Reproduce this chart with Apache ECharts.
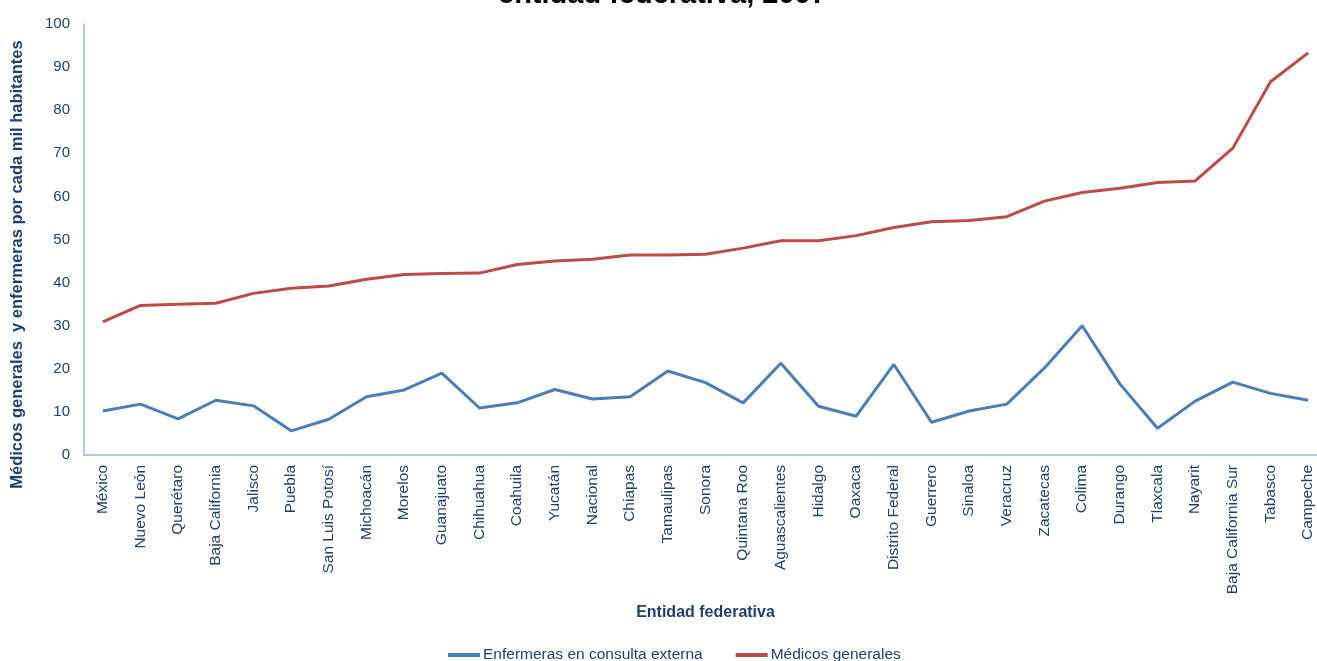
<!DOCTYPE html>
<html>
<head>
<meta charset="utf-8">
<script src="https://cdn.jsdelivr.net/npm/echarts@6/dist/echarts.min.js"></script>
<style>html,body{margin:0;padding:0;background:#fff;overflow:hidden;width:1317px;height:661px;}#c{width:1330px;height:661px;}</style>
</head>
<body>
<div id="c"></div>
<script>
const categories = ["México","Nuevo León","Querétaro","Baja California","Jalisco","Puebla","San Luis Potosí","Michoacán","Morelos","Guanajuato","Chihuahua","Coahuila","Yucatán","Nacional","Chiapas","Tamaulipas","Sonora","Quintana Roo","Aguascalientes","Hidalgo","Oaxaca","Distrito Federal","Guerrero","Sinaloa","Veracruz","Zacatecas","Colima","Durango","Tlaxcala","Nayarit","Baja California Sur","Tabasco","Campeche"];
const enfermeras = [10.2,11.8,8.4,12.7,11.4,5.6,8.3,13.5,15.1,19.0,10.9,12.1,15.2,13.0,13.5,19.5,16.8,12.1,21.3,11.3,9.0,21.0,7.6,10.2,11.8,20.2,30.0,16.5,6.2,12.5,16.9,14.3,12.7];
const medicos = [30.9,34.7,35.0,35.2,37.5,38.7,39.2,40.8,41.9,42.1,42.2,44.2,45.0,45.4,46.4,46.4,46.6,48.0,49.7,49.7,50.9,52.8,54.1,54.4,55.3,58.9,60.9,61.9,63.2,63.6,71.2,86.6,93.3];
const seriesNames = ["Enfermeras en consulta externa","Médicos generales"];
const titleText = "entidad federativa, 2007";
const yAxisName = "Médicos generales  y enfermeras por cada mil habitantes";
const xAxisName = "Entidad federativa";

const chart = echarts.init(document.getElementById('c'));
const font = "'Liberation Sans', Arial, sans-serif";
const navy = '#1F3F6E';
chart.setOption({
  animation: false,
  backgroundColor: '#fff',
  title: {
    text: titleText, left: 493, top: -25,
    textStyle: {fontFamily: font, fontSize: 29, fontWeight: 'bold', color: '#000'}
  },
  legend: {
    bottom: -7, left: 443, itemWidth: 32, itemHeight: 4, itemGap: 33,
    icon: 'rect',
    textStyle: {fontFamily: font, fontSize: 15.5, color: navy, padding: [0,0,0,-2]},
    data: seriesNames
  },
  grid: {left: 84, right: 3, top: 24, bottom: 206, containLabel: false},
  xAxis: {
    type: 'category', data: categories, boundaryGap: true,
    name: xAxisName, nameLocation: 'middle', nameGap: 150,
    nameTextStyle: {fontFamily: font, fontSize: 16, fontWeight: 'bold', color: navy},
    axisLine: {lineStyle: {color: '#9BB7DA', width: 1.5}},
    axisTick: {show: false},
    axisLabel: {rotate: 90, interval: 0, fontFamily: font, fontSize: 15.5, color: navy, margin: 10}
  },
  yAxis: {
    type: 'value', min: 0, max: 100, interval: 10,
    name: yAxisName, nameLocation: 'middle', nameGap: 58,
    nameTextStyle: {fontFamily: font, fontSize: 16.5, fontWeight: 'bold', color: navy, padding: [0, 50, 0, 0]},
    axisLine: {show: true, lineStyle: {color: '#9BB7DA', width: 1.5}},
    axisTick: {show: false},
    splitLine: {show: false},
    axisLabel: {fontFamily: font, fontSize: 15, color: navy, margin: 14}
  },
  series: [
    {name: seriesNames[0], type: 'line', data: enfermeras, symbol: 'none',
     lineStyle: {color: '#4A7EBB', width: 3}, itemStyle: {color: '#4A7EBB'}},
    {name: seriesNames[1], type: 'line', data: medicos, symbol: 'none',
     lineStyle: {color: '#BE4B48', width: 3}, itemStyle: {color: '#BE4B48'}}
  ]
});
</script>
</body>
</html>
